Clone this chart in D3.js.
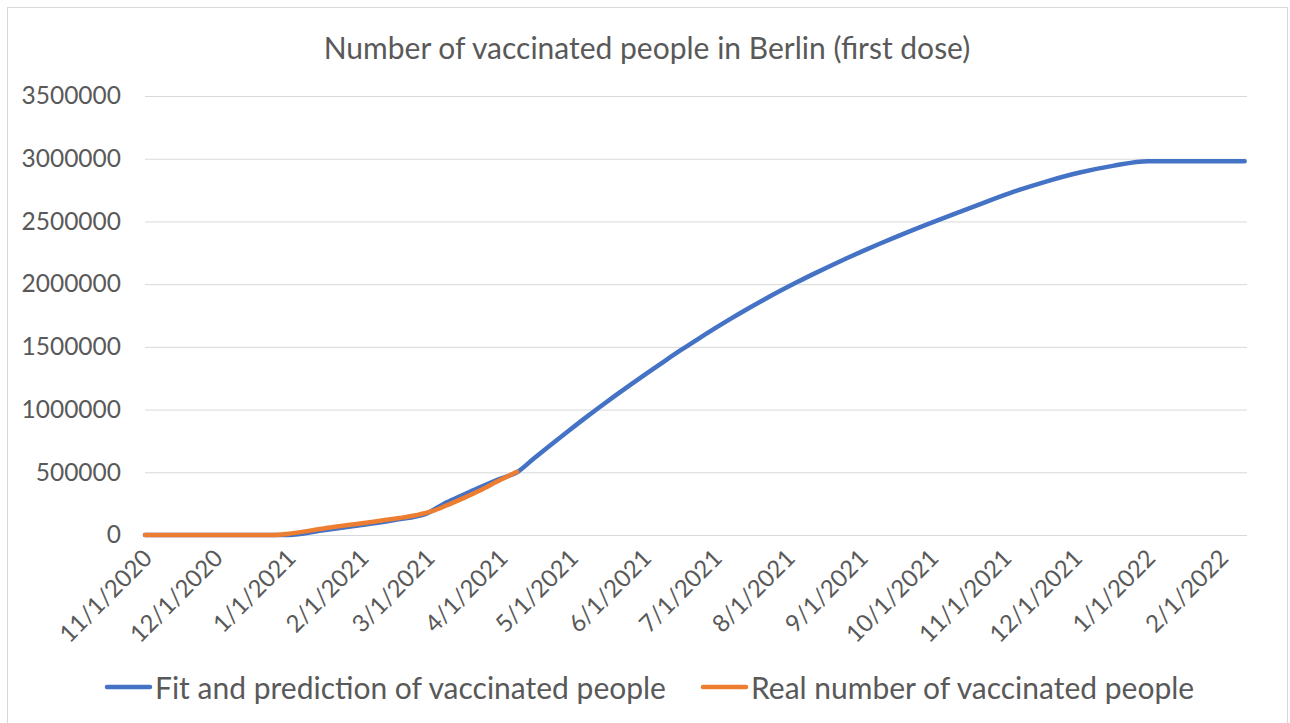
<!DOCTYPE html>
<html>
<head>
<meta charset="utf-8">
<script src="https://cdn.jsdelivr.net/npm/d3@7"></script>
<style>
  body { margin: 0; background: #fff; }
  text { font-family: Lato, "Liberation Sans", sans-serif; fill: #595959; }
</style>
</head>
<body>
<div class="chart"></div>
<script>
// fitted / predicted curve
var fitDates = ["2020-11-01", "2020-12-01", "2021-01-01", "2021-01-15", "2021-02-01", "2021-02-15",
  "2021-03-01", "2021-03-08", "2021-03-15", "2021-03-22", "2021-04-01", "2021-04-08",
  "2021-04-15", "2021-04-22", "2021-04-29", "2021-05-06", "2021-05-13", "2021-05-20", "2021-05-27",
  "2021-06-03", "2021-06-10", "2021-06-17", "2021-06-24", "2021-07-01", "2021-07-08", "2021-07-15",
  "2021-07-22", "2021-07-29", "2021-08-05", "2021-08-12", "2021-08-19", "2021-08-26", "2021-09-02",
  "2021-09-09", "2021-09-16", "2021-09-23", "2021-09-30", "2021-10-08", "2021-10-22", "2021-11-05",
  "2021-11-19", "2021-12-03", "2021-12-17", "2022-01-01", "2022-02-11"];
var fitValues = [0, 0, 0, 35000, 80000, 120000,
  175000, 250000, 310000, 370000, 450000, 500000,
  608000, 714000, 818000, 920000, 1019000, 1115000, 1209000,
  1301000, 1391000, 1479000, 1564000, 1647000, 1727000, 1804000,
  1878000, 1949000, 2017000, 2082000, 2145000, 2206000, 2265000,
  2322000, 2377000, 2430000, 2482000, 2540000, 2640000, 2737000,
  2820000, 2890000, 2943000, 2980000, 2980000];

// real numbers
var realDates = ["2020-11-01", "2020-12-26", "2021-01-01", "2021-01-10", "2021-01-20", "2021-02-03",
  "2021-02-17", "2021-02-24", "2021-03-03", "2021-03-09", "2021-03-16", "2021-03-23", "2021-04-01",
  "2021-04-08"];
var realValues = [0, 0, 10000, 35000, 64000, 98000,
  135000, 158000, 190000, 235000, 292000, 352000, 440000,
  504000];

var tickDates = ["2020-11-01", "2020-12-01", "2021-01-01", "2021-02-01", "2021-03-01", "2021-04-01",
  "2021-05-01", "2021-06-01", "2021-07-01", "2021-08-01", "2021-09-01", "2021-10-01", "2021-11-01",
  "2021-12-01", "2022-01-01", "2022-02-01"];
var yTicks = [0, 500000, 1000000, 1500000, 2000000, 2500000, 3000000, 3500000];

var seriesNames = ["Fit and prediction of vaccinated people", "Real number of vaccinated people"];
var seriesColors = ["#4472C4", "#ED7D31"];

var svgWidth = 1290;
var svgHeight = 723;
var margin = { top: 96, right: 43, bottom: 188, left: 145 };
var width = svgWidth - margin.left - margin.right;
var height = svgHeight - margin.top - margin.bottom;

var parse = d3.utcParse("%Y-%m-%d");

var svg = d3.select(".chart")
  .append("svg")
  .attr("width", svgWidth)
  .attr("height", svgHeight);

// chart area border
svg.append("rect")
  .attr("x", 7.5)
  .attr("y", 7.5)
  .attr("width", 1280)
  .attr("height", 730)
  .attr("fill", "none")
  .attr("stroke", "#D9D9D9");

svg.append("text")
  .attr("x", 647)
  .attr("y", 47)
  .attr("text-anchor", "middle")
  .attr("dominant-baseline", "central")
  .attr("font-size", "30px")
  .text("Number of vaccinated people in Berlin (first dose)");

var chartGroup = svg.append("g")
  .attr("transform", `translate(${margin.left}, ${margin.top})`);

var xScale = d3.scaleUtc()
  .domain([parse("2020-11-01"), parse("2022-02-12")])
  .range([0, width]);

var yScale = d3.scaleLinear()
  .domain([0, 3500000])
  .range([height, 0]);

// gridlines + y labels
var leftAxis = d3.axisLeft(yScale)
  .tickValues(yTicks)
  .tickSize(-width)
  .tickPadding(24)
  .tickFormat(d3.format("d"));

chartGroup.append("g")
  .call(leftAxis)
  .call(g => g.select(".domain").remove())
  .call(g => g.selectAll(".tick line").attr("stroke", "#D9D9D9"))
  .call(g => g.selectAll(".tick text")
    .attr("font-size", "24.5px")
    .attr("font-family", null)
    .attr("fill", "#595959"));

// x labels, rotated
chartGroup.append("g")
  .selectAll("text")
  .data(tickDates)
  .enter()
  .append("text")
  .attr("transform", d => `translate(${xScale(parse(d)) + 2}, ${height + 18}) rotate(-45)`)
  .attr("text-anchor", "end")
  .attr("dominant-baseline", "central")
  .attr("font-size", "24px")
  .text(d => d3.utcFormat("%-m/%-d/%Y")(parse(d)));

var line = d3.line()
  .x(d => xScale(d.date))
  .y(d => yScale(d.value))
  .curve(d3.curveMonotoneX);

var fitData = fitDates.map((d, i) => ({ date: parse(d), value: fitValues[i] }));
var realData = realDates.map((d, i) => ({ date: parse(d), value: realValues[i] }));

[fitData, realData].forEach((data, i) => {
  chartGroup.append("path")
    .datum(data)
    .attr("d", line)
    .attr("fill", "none")
    .attr("stroke", seriesColors[i])
    .attr("stroke-width", 4.5)
    .attr("stroke-linecap", "round")
    .attr("stroke-linejoin", "round");
});

// legend
var legendX = [107, 703];
var legend = svg.append("g");
seriesNames.forEach((name, i) => {
  legend.append("line")
    .attr("x1", legendX[i])
    .attr("x2", legendX[i] + 43)
    .attr("y1", 687)
    .attr("y2", 687)
    .attr("stroke", seriesColors[i])
    .attr("stroke-width", 4.5)
    .attr("stroke-linecap", "round");
  legend.append("text")
    .attr("x", legendX[i] + 48)
    .attr("y", 687)
    .attr("dominant-baseline", "central")
    .attr("font-size", "30px")
    .text(name);
});
</script>
</body>
</html>
